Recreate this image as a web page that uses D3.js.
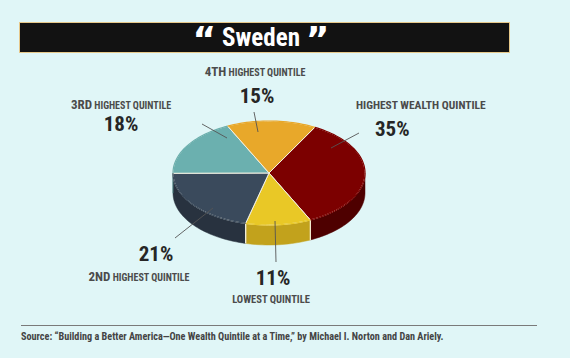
<!DOCTYPE html>
<html><head><meta charset="utf-8">
<script src="https://cdn.jsdelivr.net/npm/d3@7"></script>
<style>
html,body{margin:0;padding:0;background:#e0f6f7;}
svg{display:block;}
text{font-family:"Liberation Sans Narrow","Roboto Condensed","DejaVu Sans Condensed",sans-serif;font-weight:bold;}
</style></head>
<body>
<svg id="c" width="570" height="358"></svg>
<script>
const title = "Sweden";
const categories = ["HIGHEST WEALTH QUINTILE", "LOWEST QUINTILE", "2ND HIGHEST QUINTILE", "3RD HIGHEST QUINTILE", "4TH HIGHEST QUINTILE"];
const values = [35, 11, 21, 18, 15];
const pctLabels = ["35%", "11%", "21%", "18%", "15%"];
const source = "Source: \u201cBuilding a Better America\u2014One Wealth Quintile at a Time,\u201d by Michael I. Norton and Dan Ariely.";

const topColors = ["#7c0000", "#e9c826", "#3a4a5c", "#6bb0af", "#e8a82a"];
const sideColors = ["#4e0000", "#c2a21c", "#28323f", "#4a8584", "#b88420"];

const svg = d3.select("#c");
svg.append("rect").attr("width", 570).attr("height", 358).attr("fill", "#e0f6f7");

// title bar
svg.append("rect").attr("x", 19.5).attr("y", 22.5).attr("width", 490).attr("height", 30)
  .attr("fill", "#121212").attr("stroke", "#e6c88a").attr("stroke-width", 1);
const tt = svg.append("text").attr("x", 261).attr("y", 46).attr("text-anchor", "middle")
  .attr("fill", "#fff").attr("font-size", 25);
tt.append("tspan").text("\u201c").attr("font-size", 36).attr("font-family", "DejaVu Sans").attr("dy", 6);
tt.append("tspan").text(" " + title + " ").attr("dy", -6);
tt.append("tspan").text("\u201d").attr("font-size", 36).attr("font-family", "DejaVu Sans").attr("dy", 6);

// 3D pie
const cx = 269, cy = 173, rx = 96, ry = 52, depth = 20;
const deg = Math.PI / 180;
const start = 28.5 * deg;
const pie = d3.pie().sort(null).value(d => d).startAngle(start).endAngle(start + 2 * Math.PI);
const arcs = pie(values);

const ex = t => cx + rx * Math.sin(t);
const ey = t => cy - ry * Math.cos(t);
function samples(a0, a1) {
  const n = Math.max(2, Math.ceil((a1 - a0) / (2 * deg)));
  return d3.range(n + 1).map(i => a0 + (a1 - a0) * i / n);
}
const line = d3.line();

// side walls (front half: angles between 90 and 270 degrees)
const g = svg.append("g");
arcs.forEach((a, i) => {
  for (const shift of [0, 2 * Math.PI, -2 * Math.PI]) {
    const s = Math.max(a.startAngle + shift, 90 * deg);
    const e = Math.min(a.endAngle + shift, 270 * deg);
    if (e > s) {
      const ts = samples(s, e);
      const pts = ts.map(t => [ex(t), ey(t)]).concat(ts.slice().reverse().map(t => [ex(t), ey(t) + depth]));
      g.append("path").attr("d", line(pts) + "Z")
        .attr("fill", sideColors[i]).attr("stroke", sideColors[i]).attr("stroke-width", 0.5);
      [s, e].forEach(t => {
        if (t > 90 * deg + 0.01 && t < 270 * deg - 0.01) {
          g.append("line").attr("x1", ex(t)).attr("y1", ey(t)).attr("x2", ex(t)).attr("y2", ey(t) + depth)
            .attr("stroke", "#f4eed8").attr("stroke-width", 1.2);
        }
      });
    }
  }
});

// top faces
arcs.forEach((a, i) => {
  const ts = samples(a.startAngle, a.endAngle);
  const pts = [[cx, cy]].concat(ts.map(t => [ex(t), ey(t)]));
  g.append("path").attr("d", line(pts) + "Z").attr("fill", topColors[i])
    .attr("stroke", "#f2f0e2").attr("stroke-width", 1).attr("stroke-linejoin", "round");
});
arcs.forEach((a, i) => {
  const ts = samples(a.startAngle, a.endAngle);
  g.append("path").attr("d", line(ts.map(t => [ex(t), ey(t)])))
    .attr("fill", "none").attr("stroke", topColors[i]).attr("stroke-width", 1.2);
});

// labels layout
const layout = [
  {head: [["HIGHEST WEALTH QUINTILE", 11.5]], hx: 356, hy: 109, ha: "start", px: 375, py: 136, pa: "start", l: [359, 133, 331, 148]},
  {head: [["LOWEST QUINTILE", 10.5]], hx: 271, hy: 303, ha: "middle", px: 273, py: 285, pa: "middle", l: [275, 221, 276, 262]},
  {head: [["2ND", 13], [" HIGHEST QUINTILE", 10]], hx: 139, hy: 281, ha: "middle", px: 156, py: 261, pa: "middle", l: [213, 208, 175, 238]},
  {head: [["3RD", 13], [" HIGHEST QUINTILE", 10]], hx: 121, hy: 109, ha: "middle", px: 121, py: 131, pa: "middle", l: [202, 124, 227, 138]},
  {head: [["4TH", 13], [" HIGHEST QUINTILE", 10]], hx: 255, hy: 76, ha: "middle", px: 257, py: 103, pa: "middle", l: [254, 112, 258, 132]}
];
const lab = svg.append("g");
layout.forEach((L, i) => {
  lab.append("line").attr("x1", L.l[0]).attr("y1", L.l[1]).attr("x2", L.l[2]).attr("y2", L.l[3])
    .attr("stroke", "#555").attr("stroke-width", 0.9);
  const t = lab.append("text").attr("x", L.hx).attr("y", L.hy).attr("text-anchor", L.ha).attr("fill", "#4b4b4b");
  L.head.forEach(([s, fs]) => t.append("tspan").attr("font-size", fs).text(s));
  lab.append("text").attr("x", L.px).attr("y", L.py).attr("text-anchor", L.pa)
    .attr("fill", "#262626").attr("font-size", 21).text(pctLabels[i]);
});

// footer
svg.append("line").attr("x1", 21).attr("x2", 537).attr("y1", 325.5).attr("y2", 325.5)
  .attr("stroke", "#7a7a7a").attr("stroke-width", 1);
svg.append("text").attr("x", 21).attr("y", 340).attr("fill", "#444").attr("font-size", 10.2).text(source);
</script>
</body></html>
